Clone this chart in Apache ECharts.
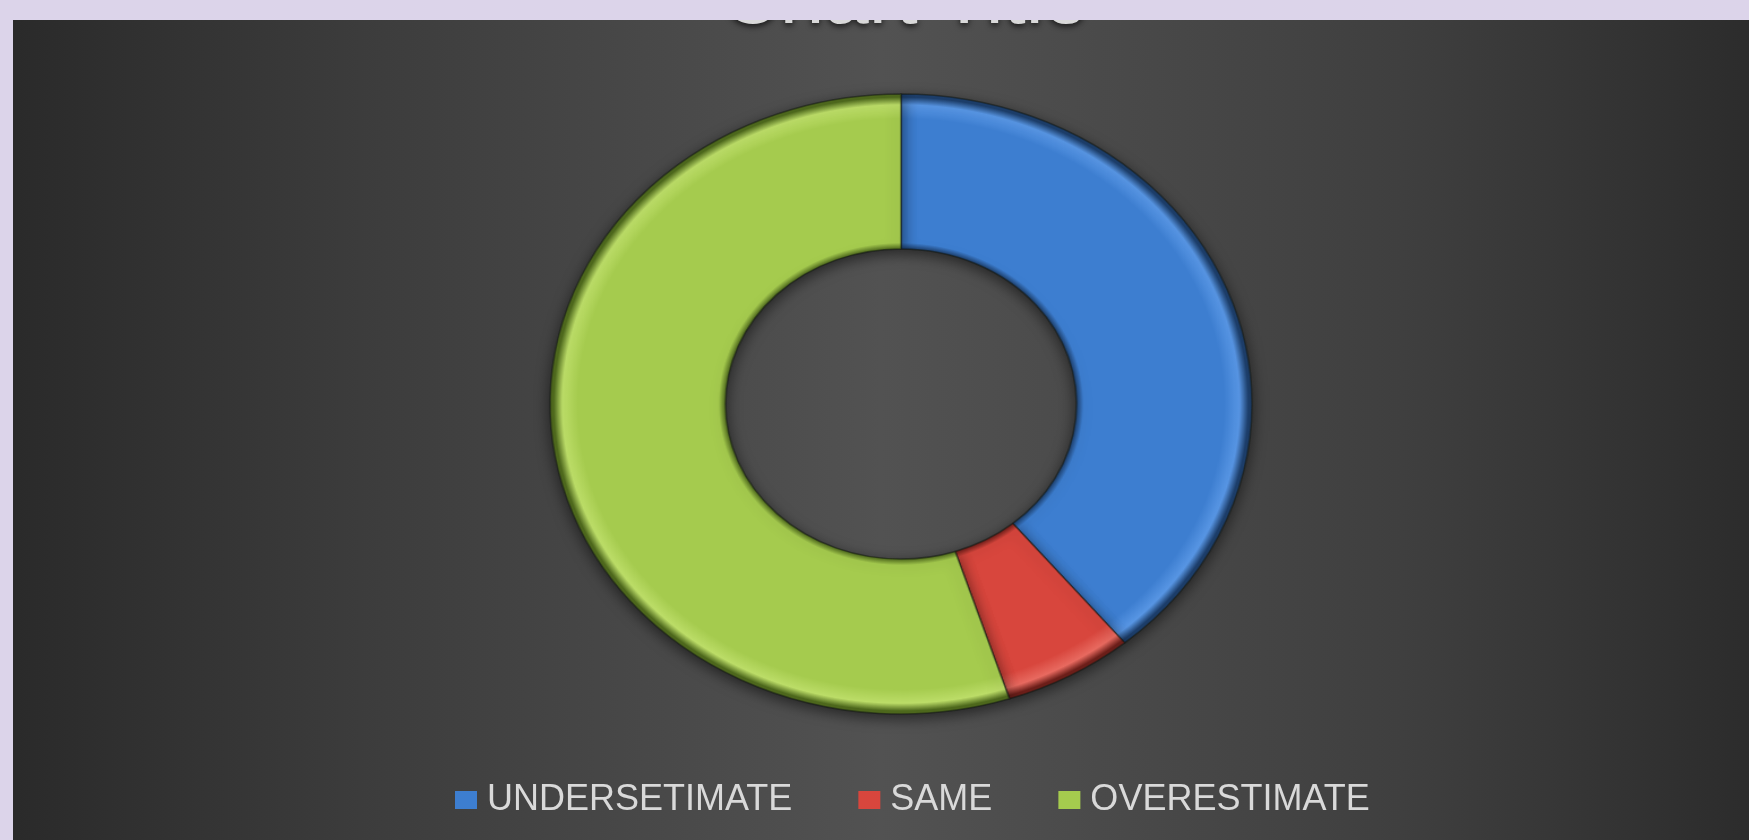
<!DOCTYPE html>
<html>
<head>
<meta charset="utf-8">
<script src="https://cdn.jsdelivr.net/npm/echarts@6/dist/echarts.min.js"></script>
<style>
  html, body { margin: 0; padding: 0; width: 1749px; height: 840px; background: #dcd4ea; overflow: hidden; }
  #panel { position: absolute; left: 13px; top: 20px; width: 1736px; height: 820px; }
  #donut { position: absolute; left: 501px; top: 4px; width: 800px; height: 800px; transform: scaleX(1.132); transform-origin: 50% 50%; }
</style>
</head>
<body>
<div id="panel"></div>
<div id="donut"></div>
<script>
const titleText = 'Chart Title';
const categories = ['UNDERSETIMATE', 'SAME', 'OVERESTIMATE'];
const values = [39, 6, 55];
const colors = ['#3d7ed0', '#d8463d', '#a5cb4e'];
const darkEdges = ['#1d3f6c', '#6e1f1a', '#4f6a1d'];
const lightEdges = ['#5896e4', '#e86a60', '#bcdd68'];

const seriesData = categories.map((c, i) => ({ name: c, value: values[i] }));

// Background panel, title and legend
const panel = echarts.init(document.getElementById('panel'));
panel.setOption({
  backgroundColor: {
    type: 'linear', x: 0, y: 0, x2: 1, y2: 0,
    colorStops: [
      { offset: 0, color: '#2a2a2a' },
      { offset: 0.2, color: '#3c3c3c' },
      { offset: 0.5, color: '#525252' },
      { offset: 0.8, color: '#3f3f3f' },
      { offset: 1, color: '#2c2c2c' }
    ]
  },
  color: colors,
  title: {
    text: titleText,
    left: 704,
    top: -64,
    textStyle: {
      color: '#d9d9d9', fontSize: 80, fontWeight: 'normal', fontFamily: 'Liberation Sans',
      textShadowColor: 'rgba(0,0,0,0.8)', textShadowBlur: 6, textShadowOffsetY: 2
    }
  },
  legend: {
    data: categories,
    left: 437,
    top: 755,
    icon: 'rect',
    itemWidth: 22,
    itemHeight: 18,
    itemGap: 66,
    textStyle: {
      color: '#d9d9d9', fontSize: 36, fontFamily: 'Liberation Sans', lineHeight: 40,
      padding: [0, 0, 0, 5]
    },
    selectedMode: false
  },
  series: [{
    type: 'pie',
    radius: [0, 0],
    silent: true,
    label: { show: false },
    labelLine: { show: false },
    data: seriesData
  }]
});

// Donut (stretched horizontally into an ellipse)
const donut = echarts.init(document.getElementById('donut'));
function ringGradient(i) {
  return {
    type: 'radial', x: 400, y: 400, r: 310, global: true,
    colorStops: [
      { offset: 0.5, color: darkEdges[i] },
      { offset: 0.52, color: colors[i] },
      { offset: 0.56, color: colors[i] },
      { offset: 0.92, color: colors[i] },
      { offset: 0.965, color: lightEdges[i] },
      { offset: 0.99, color: darkEdges[i] },
      { offset: 1, color: darkEdges[i] }
    ]
  };
}
donut.setOption({
  backgroundColor: 'transparent',
  series: [{
    type: 'pie',
    center: ['50%', '50%'],
    radius: [155, 310],
    startAngle: 90,
    clockwise: true,
    silent: true,
    label: { show: false },
    labelLine: { show: false },
    itemStyle: {
      borderColor: 'rgba(20,25,20,0.55)',
      borderWidth: 1.5,
      shadowBlur: 14,
      shadowColor: 'rgba(0,0,0,0.55)',
      shadowOffsetY: 4
    },
    data: seriesData.map((d, i) => ({
      name: d.name, value: d.value,
      itemStyle: { color: ringGradient(i) }
    }))
  }]
});
</script>
</body>
</html>
